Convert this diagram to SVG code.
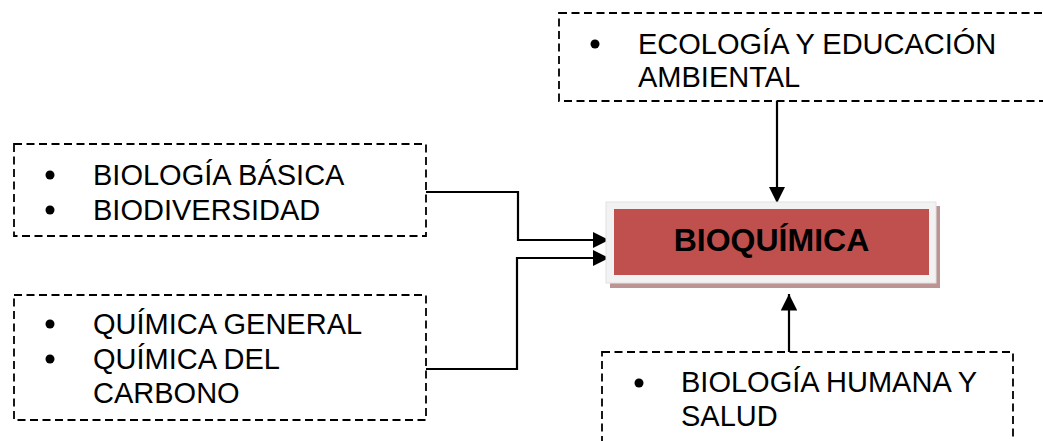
<svg xmlns="http://www.w3.org/2000/svg" width="1043" height="441" viewBox="0 0 1043 441">
  <defs>
    <style>
      .box { fill: #FFFFFF; stroke: #000000; stroke-width: 1.8; stroke-dasharray: 8 4.5; }
      .txt { font-family: "Liberation Sans", Arial, sans-serif; font-size: 29px; fill: #000000; }
      .bullet { fill: #000000; }
      .conn { fill: none; stroke: #000000; stroke-width: 2.2; }
      .title { font-family: "Liberation Sans", Arial, sans-serif; font-size: 32px; font-weight: bold; fill: #000000; }
    </style>
    <marker id="arrow" viewBox="0 0 10 10" refX="10" refY="5" markerWidth="7.5" markerHeight="7.5" markerUnits="strokeWidth" orient="auto">
      <path d="M0,0 L10,5 L0,10 Z" fill="#000000"/>
    </marker>
  </defs>
  <rect width="1043" height="441" fill="#FFFFFF"/>

  <g id="connectors">
    <polyline class="conn" points="426,192 518,192 518,240 609,240" marker-end="url(#arrow)"/>
    <polyline class="conn" points="426,369 517,369 517,258 609,258" marker-end="url(#arrow)"/>
    <line class="conn" x1="777" y1="101" x2="777" y2="203" marker-end="url(#arrow)"/>
    <line class="conn" x1="789" y1="352" x2="789" y2="294" marker-end="url(#arrow)"/>
  </g>

  <g id="node-ecologia">
    <rect class="box" x="559" y="13" width="500" height="88"/>
    <circle class="bullet" cx="595" cy="44" r="4.5"/>
    <text class="txt" x="638" y="54">ECOLOGÍA Y EDUCACIÓN</text>
    <text class="txt" x="638" y="87">AMBIENTAL</text>
  </g>

  <g id="node-biologia">
    <rect class="box" x="14" y="144" width="412" height="92"/>
    <circle class="bullet" cx="50" cy="175" r="4.5"/>
    <circle class="bullet" cx="50" cy="210" r="4.5"/>
    <text class="txt" x="93" y="185">BIOLOGÍA BÁSICA</text>
    <text class="txt" x="93" y="220">BIODIVERSIDAD</text>
  </g>

  <g id="node-quimica">
    <rect class="box" x="14" y="295" width="412" height="125"/>
    <circle class="bullet" cx="50" cy="324" r="4.5"/>
    <circle class="bullet" cx="50" cy="359" r="4.5"/>
    <text class="txt" x="93" y="334">QUÍMICA GENERAL</text>
    <text class="txt" x="93" y="369">QUÍMICA DEL</text>
    <text class="txt" x="93" y="403">CARBONO</text>
  </g>

  <g id="node-humana">
    <rect class="box" x="602" y="352" width="411" height="110"/>
    <circle class="bullet" cx="639" cy="383" r="4.5"/>
    <text class="txt" x="681" y="392">BIOLOGÍA HUMANA Y</text>
    <text class="txt" x="681" y="426">SALUD</text>
  </g>

  <g id="node-bioquimica">
    <rect x="610" y="206" width="330" height="82" fill="#BC9494"/>
    <rect x="606" y="202" width="330" height="81" fill="#F2F2F2" stroke="#E2E2E2" stroke-width="1"/>
    <rect x="614" y="209" width="315" height="66" fill="#C0504D"/>
    <text class="title" x="771.5" y="251" text-anchor="middle">BIOQUÍMICA</text>
  </g>
</svg>
